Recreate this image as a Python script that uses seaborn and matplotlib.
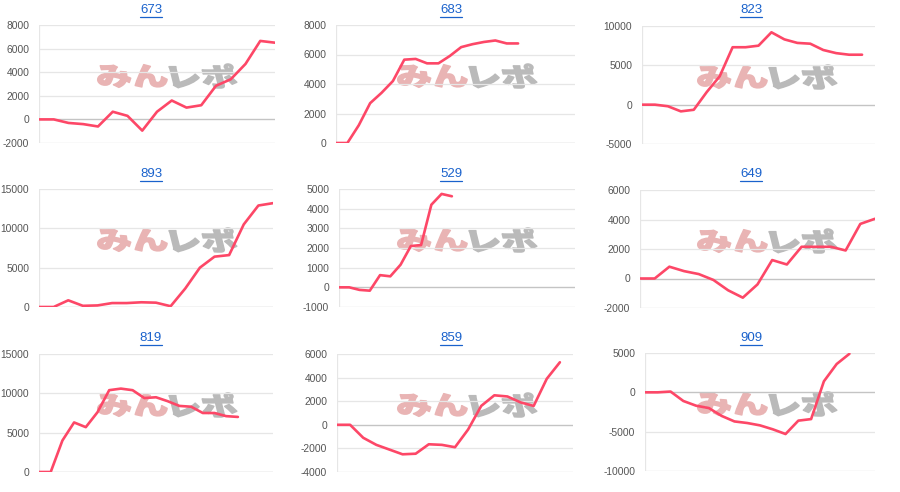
import numpy as np
import pandas as pd
import seaborn as sns
import matplotlib
matplotlib.use("Agg")
import matplotlib.pyplot as plt
from matplotlib.lines import Line2D
from matplotlib.textpath import TextPath
from matplotlib.patches import PathPatch
from matplotlib.font_manager import FontProperties
from matplotlib.transforms import Affine2D, IdentityTransform

# ---------------- data ----------------
labels = ["673", "683", "823", "893", "529", "649", "819", "859", "909"]
slots = [17, 22, 19, 17, 24, 17, 21, 19, 19]

vals_673 = [0, 0, -300, -400, -600, 650, 300, -950, 650, 1600, 1000, 1200, 2850, 3400, 4700, 6650, 6500]
vals_683 = [0, 0, 1200, 2700, 3400, 4200, 5650, 5700, 5400, 5400, 5900, 6500, 6700, 6850, 6950, 6750, 6750]
vals_823 = [0, 0, -200, -850, -650, 1600, 3600, 7300, 7300, 7500, 9200, 8300, 7850, 7750, 6950, 6550, 6350, 6350]
vals_893 = [0, 0, 850, 150, 200, 500, 500, 600, 550, 100, 2350, 5000, 6400, 6600, 10500, 12900, 13200]
vals_529 = [0, 0, -130, -170, 620, 560, 1150, 2100, 2150, 4200, 4750, 4630]
vals_649 = [0, 0, 800, 500, 300, -100, -800, -1300, -400, 1250, 950, 2150, 2150, 2150, 1900, 3700, 4050]
vals_819 = [0, 0, 4000, 6300, 5700, 7600, 10400, 10600, 10400, 9400, 9500, 9000, 8400, 8300, 7500, 7500, 7100, 7000]
vals_859 = [0, 0, -1100, -1700, -2100, -2500, -2450, -1650, -1700, -1900, -400, 1600, 2500, 2400, 1900, 1600, 3900, 5300]
vals_909 = [0, 0, 100, -1100, -1700, -2000, -3000, -3700, -3900, -4200, -4700, -5300, -3600, -3400, 1400, 3600, 4900]

series = [vals_673, vals_683, vals_823, vals_893, vals_529, vals_649, vals_819, vals_859, vals_909]

y_min = [-2000, 0, -5000, 0, -1000, -2000, 0, -4000, -10000]
y_max = [8000, 8000, 10000, 15000, 5000, 6000, 15000, 6000, 5000]
y_step = [2000, 2000, 5000, 5000, 1000, 2000, 5000, 2000, 5000]

# ---------------- layout (pixels) ----------------
W, H = 900, 492
boxes = [  # left, right, top, bottom in pixels
    (39, 275, 25, 143), (336, 575, 25, 143), (642, 875, 26, 144),
    (39, 273, 189, 307), (339, 575, 189, 307), (640, 875, 190, 308),
    (39, 273, 354, 472), (337, 573, 354, 472), (645, 875, 353, 471),
]
title_y = [10, 10, 10, 174, 174, 174, 338, 338, 338]
col_x = [0, 300, 600] * 3

sns.set_style("white")
plt.rcParams["font.family"] = ["Liberation Sans", "DejaVu Sans"]
plt.rcParams["axes.unicode_minus"] = False

fig = plt.figure(figsize=(W / 100, H / 100), dpi=100)

LINE_COLOR = "#fd4767"
TITLE_COLOR = "#1a62cc"
kana_fp = FontProperties(family="Noto Sans CJK JP", weight="black")


def add_logo(cx, cy_top):
    # cx, cy_top: center in pixel coords with y from top
    cy = H - cy_top
    size = 30
    parts = [("みん", "#e9b4b4"), ("レポ", "#bababa")]
    paths = [TextPath((0, 0), t, size=size, prop=kana_fp) for t, _ in parts]
    sx = 1.2
    gap = 5
    widths = [p.get_extents().width * sx for p in paths]
    total = sum(widths) + gap
    x0 = cx - total / 2
    for (t, col), p, w in zip(parts, paths, widths):
        ext = p.get_extents()
        tr = (Affine2D().translate(-ext.x0, -(ext.y0 + ext.height / 2))
              .scale(sx, 0.85).skew_deg(-14, 0).translate(x0, cy))
        patch = PathPatch(tr.transform_path(p), facecolor=col, edgecolor=col,
                          linewidth=1.1, joinstyle="round",
                          transform=IdentityTransform(), zorder=0.5)
        fig.add_artist(patch)
        x0 += w + gap


for i in range(9):
    l, r, t, b = boxes[i]
    ax = fig.add_axes([l / W, (H - b) / H, (r - l) / W, (b - t) / H])
    ax.patch.set_alpha(0)
    ax.set_zorder(2)
    df = pd.DataFrame({"x": np.arange(len(series[i])), "y": series[i]})
    sns.lineplot(data=df, x="x", y="y", ax=ax, color=LINE_COLOR, linewidth=1.9,
                 zorder=5, solid_joinstyle="round")
    ax.set_xlim(0, slots[i] - 1)
    ax.set_ylim(y_min[i], y_max[i])
    ticks = np.arange(y_min[i], y_max[i] + 1, y_step[i])
    ax.set_yticks(ticks)
    ax.set_yticklabels([str(int(v)) for v in ticks])
    ax.set_xticks([])
    ax.set_xlabel("")
    ax.set_ylabel("")
    for s in ax.spines.values():
        s.set_visible(False)
    ax.tick_params(axis="y", length=0, pad=7, labelsize=7.4, labelcolor="#555555")
    for v in ticks:
        if v == 0:
            ax.axhline(v, color="#c4c4c4", lw=1.0, zorder=1)
        elif v == y_min[i]:
            ax.axhline(v, color="#d6d6d6", lw=0.9, zorder=1)
        else:
            ax.axhline(v, color="#e6e6e6", lw=0.9, zorder=1)
    ax.axvline(0, color="#e6e6e6", lw=0.9, zorder=1)

    # title with underline
    tx = (col_x[i] + 151) / W
    ty = 1 - title_y[i] / H
    txt = fig.text(tx, ty, labels[i], ha="center", va="center", fontsize=9.5,
                   color=TITLE_COLOR)
    renderer = fig.canvas.get_renderer()
    bb = txt.get_window_extent(renderer)
    uy = bb.y0 - 0.5
    fig.add_artist(Line2D([bb.x0 / W, bb.x1 / W], [uy / H, uy / H],
                          transform=fig.transFigure, color=TITLE_COLOR, lw=0.9))

    # watermark logo
    add_logo(col_x[i] + 166, (t + b) / 2 - 8)

fig.savefig("out.png", dpi=100)
